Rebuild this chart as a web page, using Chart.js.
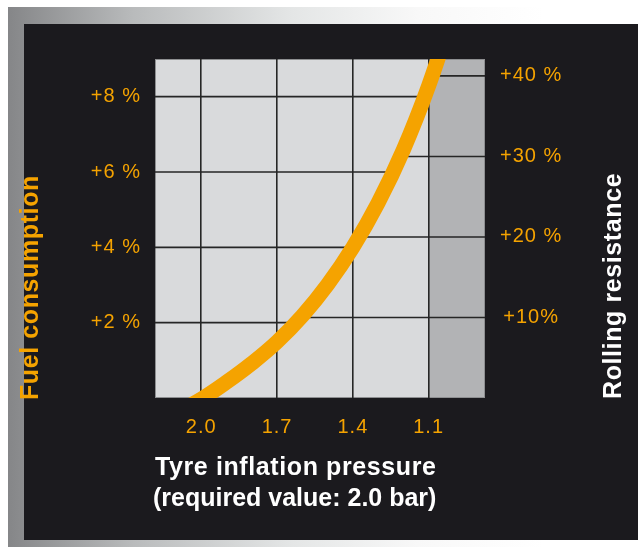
<!DOCTYPE html>
<html>
<head>
<meta charset="utf-8">
<script src="https://cdn.jsdelivr.net/npm/chart.js@4.4.1/dist/chart.umd.min.js"></script>
<style>
  html, body { margin: 0; padding: 0; background: #fff; }
  body { width: 638px; height: 548px; position: relative; overflow: hidden; }
  .frame { position: absolute; left: 8px; top: 7px; width: 630px; height: 540px;
    background: linear-gradient(to right, #858688 0%, #b9bbbc 20%, #e4e6e6 45%, #f8f8f8 65%, #fff 85%); }
  .panel { position: absolute; left: 24px; top: 24px; width: 614px; height: 516px; background: #1b1a1e; }
  canvas { position: absolute; left: 0; top: 0; }
</style>
</head>
<body>
<div class="frame"></div>
<div class="panel"></div>
<canvas id="chart" width="638" height="548"></canvas>
<script>
'use strict';

// tyre pressure (bar) vs. extra fuel consumption (%)
const pressure = [2.1, 2.0, 1.9, 1.8, 1.7, 1.6, 1.5, 1.4, 1.3, 1.2, 1.1, 1.0];
const fuelIncrease = [-0.4, -0.03, 0.42, 0.92, 1.49, 2.18, 3.01, 4.0, 5.18, 6.59, 8.29, 10.3];

const pressureTicks = [2.0, 1.7, 1.4, 1.1];
const fuelTicks = [2, 4, 6, 8];
const fuelLabels = ['+2 %', '+4 %', '+6 %', '+8 %'];
const rollingTicks = [10, 20, 30, 40];
const rollingLabels = ['+10%', '+20 %', '+30 %', '+40 %'];
const warnLimit = 1.1; // below this the zone is shaded darker

const orange = '#f5a300';
const gridColor = '#262626';
const family = '"Liberation Sans", Arial, Helvetica, sans-serif';

let curveXAt = (chart, yPx) => {
    const pts = chart.getDatasetMeta(0).data;
    for (let i = 1; i < pts.length; i++) {
        const a = pts[i - 1], b = pts[i];
        if ((a.y - yPx) * (b.y - yPx) <= 0 && a.y !== b.y) {
            return a.x + (b.x - a.x) * (yPx - a.y) / (b.y - a.y);
        }
    }
    return chart.chartArea.right;
};

const panelPlugin = {
    id: 'panel',
    beforeLayout(chart) {
        chart.ctx.letterSpacing = '1px';
    },
    beforeDraw(chart) {
        const {ctx, chartArea: a, scales: {x}} = chart;
        ctx.letterSpacing = '1px';
        const xs = x.getPixelForValue(warnLimit);
        ctx.save();
        ctx.fillStyle = '#d9dadc';
        ctx.fillRect(a.left, a.top, a.width, a.height);
        ctx.fillStyle = '#b2b3b5';
        ctx.fillRect(xs, a.top, a.right - xs, a.height);
        ctx.strokeStyle = '#8e8f91';
        ctx.lineWidth = 1;
        ctx.strokeRect(a.left + 0.5, a.top + 0.5, a.width - 1, a.height - 1);
        ctx.restore();
    },
    beforeDatasetsDraw(chart) {
        // fuel grid lines stop at the curve from the left, rolling resistance ones from the right
        const {ctx, chartArea: a, scales: {y, y1}} = chart;
        ctx.save();
        ctx.strokeStyle = gridColor;
        ctx.lineWidth = 1.6;
        ctx.beginPath();
        fuelTicks.forEach(v => {
            const py = y.getPixelForValue(v);
            ctx.moveTo(a.left, py);
            ctx.lineTo(curveXAt(chart, py), py);
        });
        rollingTicks.forEach(v => {
            const py = y1.getPixelForValue(v);
            ctx.moveTo(curveXAt(chart, py), py);
            ctx.lineTo(a.right, py);
        });
        ctx.stroke();
        ctx.restore();
    },
    afterDraw(chart) {
        const {ctx, chartArea: a} = chart;
        ctx.save();
        ctx.font = 'bold 25px ' + family;
        ctx.textAlign = 'left';
        ctx.textBaseline = 'alphabetic';
        ctx.fillStyle = '#ffffff';
        ctx.letterSpacing = '0.6px';
        ctx.fillText('Tyre inflation pressure', a.left, a.bottom + 77);
        ctx.letterSpacing = '0px';
        ctx.fillText('(required value: 2.0 bar)', a.left - 2, a.bottom + 108);

        ctx.letterSpacing = '0.6px';
        ctx.textBaseline = 'middle';
        ctx.save();
        ctx.translate(31, a.bottom + 2);
        ctx.rotate(-Math.PI / 2);
        ctx.fillStyle = orange;
        ctx.fillText('Fuel consumption', 0, 0);
        ctx.restore();

        ctx.translate(614, a.bottom + 1);
        ctx.rotate(-Math.PI / 2);
        ctx.fillStyle = '#ffffff';
        ctx.fillText('Rolling resistance', 0, 0);
        ctx.restore();
    }
};

new Chart(document.getElementById('chart'), {
    type: 'line',
    data: {
        datasets: [{
            data: pressure.map((p, i) => ({x: p, y: fuelIncrease[i]})),
            borderColor: orange,
            borderWidth: 15,
            pointRadius: 0,
            tension: 0.4,
            clip: 0,
            yAxisID: 'y'
        }]
    },
    options: {
        responsive: false,
        animation: false,
        layout: {padding: {top: 59}},
        plugins: {
            legend: {display: false},
            tooltip: {enabled: false}
        },
        scales: {
            x: {
                type: 'linear',
                reverse: true,
                min: 0.877,
                max: 2.183,
                afterBuildTicks: s => { s.ticks = pressureTicks.map(v => ({value: v})); },
                afterFit: s => { s.height = 150; },
                ticks: {
                    color: orange,
                    font: {family: family, size: 20},
                    padding: 17,
                    callback: v => v.toFixed(1)
                },
                grid: {color: gridColor, lineWidth: 1.6, drawTicks: false},
                border: {display: false}
            },
            y: {
                position: 'left',
                min: 0,
                max: 9,
                afterBuildTicks: s => { s.ticks = fuelTicks.map(v => ({value: v})); },
                afterFit: s => { s.width = 155; },
                ticks: {
                    color: orange,
                    font: {family: family, size: 20},
                    padding: 14,
                    callback: v => fuelLabels[fuelTicks.indexOf(v)]
                },
                grid: {display: false, drawTicks: false},
                border: {display: false}
            },
            y1: {
                position: 'right',
                min: 0,
                max: 42.1,
                afterBuildTicks: s => { s.ticks = rollingTicks.map(v => ({value: v})); },
                afterFit: s => { s.width = 153; },
                ticks: {
                    color: orange,
                    font: {family: family, size: 20},
                    padding: 15,
                    crossAlign: 'center',
                    callback: v => rollingLabels[rollingTicks.indexOf(v)]
                },
                grid: {display: false, drawTicks: false},
                border: {display: false}
            }
        }
    },
    plugins: [panelPlugin]
});
</script>
</body>
</html>
